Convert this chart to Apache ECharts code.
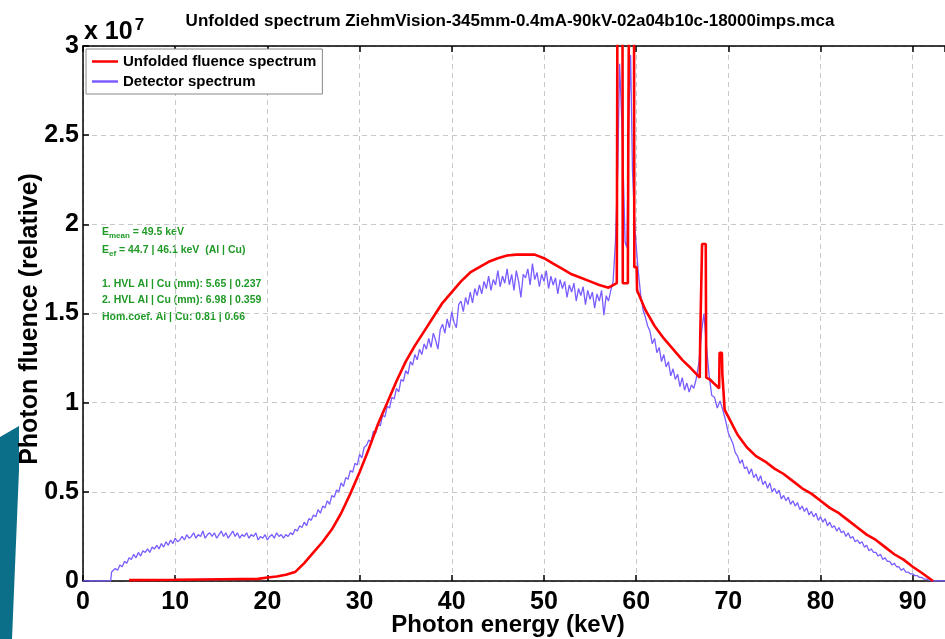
<!DOCTYPE html>
<html>
<head>
<meta charset="utf-8">
<script src="https://cdn.jsdelivr.net/npm/echarts@6/dist/echarts.min.js"></script>
<style>html,body{margin:0;padding:0;background:#fff;}#c{width:945px;height:639px;}</style>
</head>
<body>
<div id="c"></div>
<script>
// ---------- DATA (energy in keV, y values in units of 1e7) ----------
var xTicks = [0, 10, 20, 30, 40, 50, 60, 70, 80, 90];
var yTicks = [0, 0.5, 1, 1.5, 2, 2.5, 3];

var fluenceE = [5, 10, 15, 19, 20, 21, 22, 23, 24, 25, 26, 27, 28, 29, 30, 31, 32, 33, 34, 35, 36, 37, 38, 39, 40, 41, 42, 43, 44, 45, 46, 47, 48, 49, 50, 51, 52, 53, 54, 55, 56, 57, 57.9, 58.0, 58.5, 58.55, 59.1, 59.15, 59.25, 59.3, 59.75, 59.8, 60.05, 60.1, 61, 62, 63, 64, 65, 66, 66.9, 66.95, 67.1, 67.15, 67.55, 67.6, 68, 69, 69.05, 69.3, 69.35, 69.55, 69.6, 70, 70.5, 71, 72, 73, 74, 75, 76, 77, 78, 79, 80, 81, 82, 83, 84, 85, 86, 87, 88, 89, 90, 91, 92.2];
var fluenceY = [0.005, 0.007, 0.01, 0.012, 0.02, 0.025, 0.035, 0.05, 0.1, 0.16, 0.22, 0.29, 0.38, 0.49, 0.61, 0.74, 0.88, 1.0, 1.12, 1.23, 1.32, 1.4, 1.48, 1.56, 1.62, 1.68, 1.73, 1.76, 1.79, 1.81, 1.825, 1.83, 1.83, 1.83, 1.81, 1.78, 1.75, 1.72, 1.7, 1.68, 1.66, 1.645, 1.67, 4, 4, 1.67, 1.67, 2.49, 2.49, 4, 4, 1.76, 1.76, 1.63, 1.52, 1.43, 1.36, 1.3, 1.24, 1.19, 1.14, 1.37, 1.37, 1.89, 1.89, 1.14, 1.13, 1.08, 1.28, 1.28, 1.16, 1.16, 0.96, 0.92, 0.87, 0.82, 0.75, 0.7, 0.67, 0.63, 0.6, 0.56, 0.52, 0.49, 0.45, 0.41, 0.38, 0.34, 0.3, 0.26, 0.23, 0.19, 0.15, 0.12, 0.08, 0.045, 0];

var detectorLow = [[0, 0], [3.0, 0], [3.1, 0.05], [3.25, 0.05], [3.5, 0.07], [3.75, 0.06], [4.0, 0.09], [4.25, 0.08], [4.5, 0.11], [4.75, 0.10], [5.0, 0.13], [5.25, 0.12], [5.5, 0.15], [5.75, 0.13], [6.0, 0.16], [6.25, 0.14], [6.5, 0.17], [6.75, 0.16], [7.0, 0.18], [7.25, 0.16], [7.5, 0.19], [7.75, 0.18], [8.0, 0.20], [8.25, 0.18], [8.5, 0.21], [8.75, 0.19], [9.0, 0.22], [9.25, 0.20], [9.5, 0.23], [9.75, 0.21], [10.0, 0.24], [10.25, 0.22], [10.5, 0.23], [10.75, 0.25], [11.0, 0.23], [11.25, 0.26], [11.5, 0.24], [11.75, 0.25], [12.0, 0.27], [12.25, 0.24], [12.5, 0.26], [12.75, 0.25], [13.0, 0.28], [13.25, 0.24], [13.5, 0.26], [13.75, 0.27], [14.0, 0.25], [14.25, 0.27], [14.5, 0.24], [14.75, 0.26], [15.0, 0.28], [15.25, 0.25], [15.5, 0.27], [15.75, 0.24], [16.0, 0.26], [16.25, 0.28], [16.5, 0.25], [16.75, 0.27], [17.0, 0.24], [17.25, 0.26], [17.5, 0.25], [17.75, 0.27], [18.0, 0.24], [18.25, 0.26], [18.5, 0.25], [18.75, 0.27], [19.0, 0.23], [19.25, 0.25], [19.5, 0.24], [19.75, 0.26], [20.0, 0.23], [20.25, 0.25], [20.5, 0.26], [20.75, 0.24], [21.0, 0.27], [21.25, 0.25], [21.5, 0.26], [21.75, 0.24], [22.0, 0.26], [22.25, 0.25], [22.5, 0.27], [22.75, 0.26]];
var detectorRise = [[23.0, 0.29], [23.25, 0.28], [23.5, 0.31], [23.75, 0.30], [24.0, 0.33], [24.25, 0.31], [24.5, 0.35], [24.75, 0.34], [25.0, 0.37], [25.25, 0.36], [25.5, 0.40], [25.75, 0.38], [26.0, 0.42], [26.25, 0.41], [26.5, 0.45], [26.75, 0.43], [27.0, 0.48], [27.25, 0.47], [27.5, 0.51], [27.75, 0.50], [28.0, 0.55], [28.25, 0.53], [28.5, 0.58], [28.75, 0.57], [29.0, 0.62], [29.25, 0.61], [29.5, 0.66], [29.75, 0.65], [30.0, 0.71], [30.25, 0.69], [30.5, 0.75], [30.75, 0.76], [31.0, 0.79], [31.25, 0.78], [31.5, 0.84], [31.75, 0.83], [32.0, 0.88], [32.25, 0.87], [32.5, 0.93], [32.75, 0.92], [33.0, 0.98], [33.25, 0.97], [33.5, 1.03], [33.75, 1.02], [34.0, 1.08], [34.25, 1.06], [34.5, 1.13], [34.75, 1.12], [35.0, 1.18], [35.25, 1.16], [35.5, 1.23], [35.75, 1.21], [36.0, 1.27], [36.25, 1.24], [36.5, 1.30], [36.75, 1.27]];
var detectorTop = [[37.0, 1.33], [37.25, 1.30], [37.5, 1.36], [37.75, 1.31], [38.0, 1.39], [38.25, 1.35], [38.5, 1.30], [38.75, 1.41], [39.0, 1.44], [39.25, 1.39], [39.5, 1.47], [39.75, 1.42], [40.0, 1.51], [40.25, 1.45], [40.5, 1.42], [40.75, 1.55], [41.0, 1.57], [41.25, 1.51], [41.5, 1.59], [41.75, 1.55], [42.0, 1.62], [42.25, 1.56], [42.5, 1.64], [42.75, 1.60], [43.0, 1.66], [43.25, 1.61], [43.5, 1.68], [43.75, 1.64], [44.0, 1.71], [44.25, 1.63], [44.5, 1.69], [44.75, 1.66], [45.0, 1.74], [45.25, 1.65], [45.5, 1.71], [45.75, 1.67], [46.0, 1.75], [46.25, 1.66], [46.5, 1.72], [46.75, 1.63], [47.0, 1.74], [47.25, 1.68], [47.5, 1.59], [47.75, 1.72], [48.0, 1.70], [48.25, 1.75], [48.5, 1.66], [48.75, 1.78], [49.0, 1.69], [49.25, 1.73], [49.5, 1.65], [49.75, 1.72], [50.0, 1.68], [50.25, 1.74], [50.5, 1.64], [50.75, 1.71], [51.0, 1.66], [51.25, 1.70], [51.5, 1.61], [51.75, 1.69], [52.0, 1.64], [52.25, 1.68], [52.5, 1.59], [52.75, 1.66], [53.0, 1.62], [53.25, 1.67], [53.5, 1.57], [53.75, 1.64], [54.0, 1.60], [54.25, 1.65], [54.5, 1.55], [54.75, 1.63], [55.0, 1.58], [55.25, 1.62], [55.5, 1.53], [55.75, 1.61], [56.0, 1.57], [56.25, 1.63], [56.5, 1.49], [56.75, 1.60], [57.0, 1.57], [57.25, 1.63], [57.5, 1.68]];
var detectorPeaks = [[57.75, 1.9], [58.0, 2.3], [58.2, 2.9], [58.5, 2.5], [58.8, 1.9], [59.0, 1.87], [59.2, 2.6], [59.4, 2.95], [59.6, 2.3], [59.9, 1.95], [60.2, 1.75], [60.5, 1.60], [60.75, 1.52], [61.0, 1.48], [61.25, 1.43], [61.5, 1.40], [61.75, 1.33], [62.0, 1.36], [62.25, 1.28], [62.5, 1.31], [62.75, 1.23], [63.0, 1.27], [63.25, 1.20], [63.5, 1.23], [63.75, 1.15], [64.0, 1.19], [64.25, 1.13], [64.5, 1.16], [64.75, 1.09], [65.0, 1.14], [65.25, 1.07], [65.5, 1.11], [65.75, 1.06], [66.0, 1.10], [66.25, 1.08], [66.5, 1.13], [66.8, 1.22], [67.1, 1.40], [67.35, 1.50], [67.6, 1.33], [67.9, 1.16], [68.2, 1.04], [68.5, 1.03], [68.8, 0.97], [69.1, 1.01], [69.4, 0.96], [69.7, 0.90], [70.0, 0.83]];
var detectorTail = [[70.25, 0.80], [70.5, 0.77], [70.75, 0.72], [71.0, 0.70], [71.25, 0.66], [71.5, 0.68], [71.75, 0.63], [72.0, 0.64], [72.25, 0.60], [72.5, 0.63], [72.75, 0.58], [73.0, 0.60], [73.25, 0.56], [73.5, 0.59], [73.75, 0.54], [74.0, 0.56], [74.25, 0.52], [74.5, 0.55], [74.75, 0.50], [75.0, 0.52], [75.25, 0.49], [75.5, 0.51], [75.75, 0.46], [76.0, 0.48], [76.25, 0.45], [76.5, 0.47], [76.75, 0.43], [77.0, 0.45], [77.25, 0.42], [77.5, 0.44], [77.75, 0.40], [78.0, 0.42], [78.25, 0.39], [78.5, 0.41], [78.75, 0.37], [79.0, 0.39], [79.25, 0.36], [79.5, 0.38], [79.75, 0.34], [80.0, 0.36], [80.25, 0.33], [80.5, 0.35], [80.75, 0.31], [81.0, 0.33], [81.25, 0.30], [81.5, 0.31], [81.75, 0.28], [82.0, 0.30], [82.25, 0.27], [82.5, 0.28], [82.75, 0.25], [83.0, 0.27], [83.25, 0.24], [83.5, 0.25], [83.75, 0.22], [84.0, 0.23], [84.25, 0.21], [84.5, 0.22], [84.75, 0.19], [85.0, 0.20], [85.25, 0.17], [85.5, 0.18], [85.75, 0.16], [86.0, 0.16], [86.25, 0.14], [86.5, 0.15], [86.75, 0.12], [87.0, 0.13], [87.25, 0.11], [87.5, 0.11], [87.75, 0.09], [88.0, 0.10], [88.25, 0.08], [88.5, 0.08], [88.75, 0.06], [89.0, 0.07], [89.25, 0.05], [89.5, 0.05], [89.75, 0.04], [90.0, 0.04], [90.25, 0.03], [90.5, 0.03], [90.75, 0.02], [91.0, 0.02], [91.25, 0.01], [91.5, 0.01], [92.0, 0], [93.5, 0]];

var titleText = 'Unfolded spectrum ZiehmVision-345mm-0.4mA-90kV-02a04b10c-18000imps.mca';
var seriesNames = ['Unfolded fluence spectrum', 'Detector spectrum'];
var infoLines = [
  '{a|E}{s|mean}{a| = 49.5 keV}',
  '{a|E}{s|ef}{a| = 44.7 | 46.1 keV  (Al | Cu)}',
  '{a|1. HVL Al | Cu (mm): 5.65 | 0.237}',
  '{a|2. HVL Al | Cu (mm): 6.98 | 0.359}',
  '{a|Hom.coef. Al | Cu: 0.81 | 0.66}'
];
// ------------------------------------------------------

function zip(xs, ys) { var o = []; for (var i = 0; i < xs.length; i++) o.push([xs[i], ys[i]]); return o; }
var detectorData = [].concat(detectorLow, detectorRise, detectorTop, detectorPeaks, detectorTail);

var FONT = '"Liberation Sans", Arial, Helvetica, sans-serif';
var chart = echarts.init(document.getElementById('c'), null, {renderer: 'canvas'});

var infoY = [232, 250, 284, 300, 317];
var graphics = [
  {type: 'polygon', shape: {points: [[0, 437], [19, 426], [19, 470], [12, 639], [0, 639]]}, style: {fill: '#0b6f8a'}, z: 0},
  {type: 'text', left: 84, top: 17, style: {text: '{m|x 10}{e|7}', rich: {
    m: {fontFamily: FONT, fontWeight: 'bold', fontSize: 25, fill: '#000', verticalAlign: 'bottom', lineHeight: 28},
    e: {fontFamily: FONT, fontWeight: 'bold', fontSize: 17, fill: '#000', verticalAlign: 'top', padding: [0, 0, 10, 2], lineHeight: 28}
  }}},
  {type: 'text', x: 508, y: 625, style: {text: 'Photon energy (keV)', font: 'bold 24px ' + FONT, fill: '#000', textAlign: 'center', textVerticalAlign: 'middle'}},
  {type: 'text', x: 30, y: 319, rotation: Math.PI / 2, style: {text: 'Photon fluence (relative)', font: 'bold 25px ' + FONT, fill: '#000', textAlign: 'center', textVerticalAlign: 'middle'}}
];
for (var i = 0; i < infoLines.length; i++) {
  graphics.push({type: 'text', x: 102, y: infoY[i], style: {text: infoLines[i], textVerticalAlign: 'middle', rich: {
    a: {fontFamily: FONT, fontWeight: 'bold', fontSize: 10.5, fill: '#1f9a26', lineHeight: 16, verticalAlign: 'middle'},
    s: {fontFamily: FONT, fontWeight: 'bold', fontSize: 8, fill: '#1f9a26', lineHeight: 16, verticalAlign: 'bottom'}
  }}});
}

var axisLbl = {color: '#000', fontFamily: FONT, fontWeight: 'bold', fontSize: 25};
var X_MAX = 93.5;

chart.setOption({
  animation: false,
  backgroundColor: '#fff',
  title: {text: titleText, left: 505, top: 8, textAlign: 'center',
    textStyle: {fontFamily: FONT, fontWeight: 'bold', fontSize: 17, color: '#000'}},
  grid: {left: 83, top: 46, bottom: 58, right: 0, containLabel: false},
  legend: {
    data: [
      {name: seriesNames[0], icon: 'rect', itemStyle: {color: '#ff0000'}},
      {name: seriesNames[1], icon: 'rect', itemStyle: {color: '#7b5cff'}}
    ],
    orient: 'vertical', left: 86, top: 49,
    backgroundColor: '#fff', borderColor: '#888', borderWidth: 1,
    padding: [4, 6, 4, 6], itemGap: 3, itemWidth: 26, itemHeight: 2.5,
    textStyle: {fontFamily: FONT, fontWeight: 'bold', fontSize: 15, color: '#000', lineHeight: 17}
  },
  xAxis: [{
    type: 'value', min: 0, max: X_MAX, interval: 10,
    axisLine: {show: true, onZero: false, lineStyle: {color: '#000', width: 1.5}},
    axisTick: {show: true, inside: true, length: 6, lineStyle: {color: '#000', width: 1.5}},
    axisLabel: Object.assign({margin: 9, showMaxLabel: false, formatter: function (v) { return xTicks.indexOf(v) >= 0 ? String(v) : ''; }}, axisLbl),
    splitLine: {show: true, lineStyle: {color: '#c8c8c8', type: [5, 4], width: 1}}
  }, {
    type: 'value', position: 'top', min: 0, max: X_MAX, interval: 10,
    axisLine: {show: true, onZero: false, lineStyle: {color: '#000', width: 1.5}},
    axisTick: {show: true, inside: true, length: 6, lineStyle: {color: '#000', width: 1.5}},
    axisLabel: {show: false}, splitLine: {show: false}
  }],
  yAxis: {
    type: 'value', min: 0, max: 3, interval: 0.5,
    axisLine: {show: true, onZero: false, lineStyle: {color: '#000', width: 1.5}},
    axisTick: {show: true, inside: true, length: 6, lineStyle: {color: '#000', width: 1.5}},
    axisLabel: Object.assign({margin: 4, formatter: function (v) { return yTicks.indexOf(v) >= 0 ? String(v) : ''; }}, axisLbl),
    splitLine: {show: true, lineStyle: {color: '#c8c8c8', type: [5, 4], width: 1}}
  },
  series: [{
    name: seriesNames[1], type: 'line', data: detectorData,
    symbol: 'none', lineStyle: {color: '#7b5cff', width: 1.3}, itemStyle: {color: '#7b5cff'}, z: 2
  }, {
    name: seriesNames[0], type: 'line', data: zip(fluenceE, fluenceY),
    symbol: 'none', lineStyle: {color: '#ff0000', width: 2.6}, itemStyle: {color: '#ff0000'}, z: 3
  }],
  graphic: graphics
});
</script>
</body>
</html>
